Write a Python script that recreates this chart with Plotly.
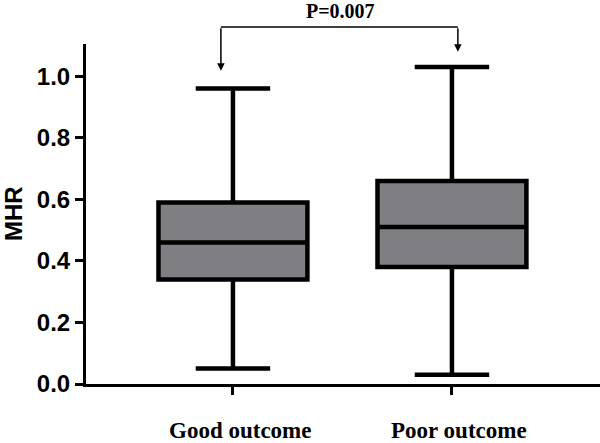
import plotly.graph_objects as go

# Dados
grupos = ["Good outcome", "Poor outcome"]
posicoes = [0, 1]
minimo = [0.05, 0.03]
q1 = [0.34, 0.38]
mediana = [0.46, 0.51]
q3 = [0.59, 0.66]
maximo = [0.96, 1.03]
y_ticks = [0.0, 0.2, 0.4, 0.6, 0.8, 1.0]
p_texto = "P=0.007"

fig = go.Figure()

for i, nome in enumerate(grupos):
    fig.add_trace(
        go.Box(
            x=[posicoes[i]],
            q1=[q1[i]],
            median=[mediana[i]],
            q3=[q3[i]],
            lowerfence=[minimo[i]],
            upperfence=[maximo[i]],
            name=nome,
            width=0.68,
            whiskerwidth=0.5,
            fillcolor="#7f7f83",
            line=dict(color="black", width=4.5),
            hoverinfo="skip",
        )
    )

# Rótulos das categorias (Times bold, bem abaixo do eixo)
for i, nome in enumerate(grupos):
    fig.add_annotation(
        x=posicoes[i], y=(384 - 430) / 340, xref="x", yref="paper",
        text=nome, showarrow=False, xshift=7, yanchor="middle",
        font=dict(family="Liberation Serif", size=23, color="black", weight="bold"),
    )

# Título do eixo y
fig.add_annotation(
    x=0, y=0.5, xref="paper", yref="paper", xshift=-73, textangle=-90,
    text="MHR", showarrow=False, xanchor="center", yanchor="middle",
    font=dict(family="Liberation Sans", size=24, color="black", weight="bold"),
)

# Colchete de significância
fig.add_shape(
    type="line", xref="x", yref="paper",
    x0=-0.055, x1=1.027, y0=1.05, y1=1.05,
    line=dict(color="black", width=1.5),
)
for xa, tip in [(-0.055, 1.018), (1.027, 1.080)]:
    fig.add_annotation(
        x=xa, y=tip, xref="x", yref="y",
        ax=xa, ay=1.161, axref="x", ayref="y",
        showarrow=True, arrowhead=2, arrowsize=1, arrowwidth=1.5,
        arrowcolor="black", text="",
    )
fig.add_annotation(
    x=0.5, y=(384 - 11) / 340, xref="x", yref="paper", text=p_texto,
    showarrow=False, yanchor="middle", xshift=-2,
    font=dict(family="Liberation Serif", size=20, color="black", weight="bold"),
)

fig.update_layout(
    width=600, height=443,
    margin=dict(l=86, r=0, t=44, b=59),
    paper_bgcolor="white", plot_bgcolor="white",
    showlegend=False,
    xaxis=dict(
        range=[-0.671, 1.676], automargin=False,
        tickvals=posicoes, ticktext=["", ""],
        showline=True, linecolor="black", linewidth=3,
        ticks="outside", ticklen=8, tickwidth=3, tickcolor="black",
        showgrid=False, zeroline=False,
    ),
    yaxis=dict(
        range=[0, 1.105], automargin=False,
        tickvals=y_ticks, tickformat=".1f",
        showline=True, linecolor="black", linewidth=3,
        ticks="outside", ticklen=8, tickwidth=3, tickcolor="black",
        showgrid=False, zeroline=False,
        tickfont=dict(family="Liberation Sans", size=24, color="black", weight="bold"),
    ),
)

# remove a margem padrão do <body> para o gráfico ocupar a janela inteira
fig.write_html(
    "out.html",
    config={"displayModeBar": False},
    post_script="document.body.style.margin='0';",
)
